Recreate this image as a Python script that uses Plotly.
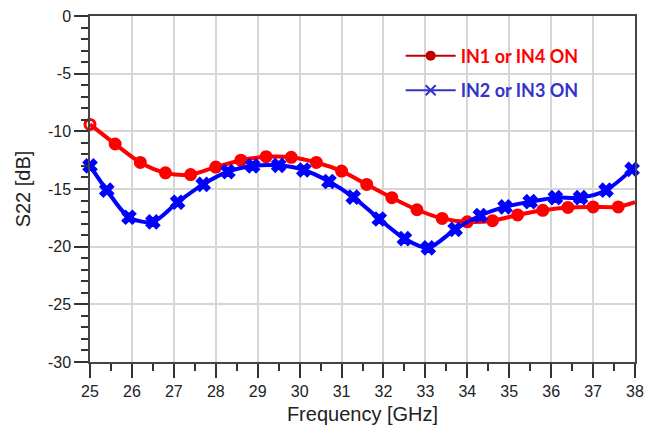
import plotly.graph_objects as go

# Data
red_freq = [25.0, 25.6, 26.2, 26.8, 27.4, 28.0, 28.6, 29.2, 29.8, 30.4, 31.0, 31.6,
            32.2, 32.8, 33.4, 34.0, 34.6, 35.2, 35.8, 36.4, 37.0, 37.6, 38.0]
red_s22 = [-9.4, -11.1, -12.7, -13.6, -13.75, -13.1, -12.5, -12.2, -12.25, -12.7, -13.45, -14.6,
           -15.75, -16.8, -17.55, -17.85, -17.75, -17.25, -16.85, -16.6, -16.55, -16.55, -16.15]

blue_freq = [25.0, 25.4, 25.93, 26.5, 27.09, 27.7, 28.29, 28.88, 29.5, 30.1, 30.7, 31.28,
             31.9, 32.5, 33.07, 33.71, 34.31, 34.9, 35.5, 36.1, 36.7, 37.31, 37.93]
blue_s22 = [-13.0, -15.1, -17.45, -17.85, -16.15, -14.6, -13.5, -13.0, -12.95, -13.35, -14.35, -15.7,
            -17.6, -19.3, -20.1, -18.5, -17.3, -16.55, -16.1, -15.75, -15.75, -15.1, -13.3]

red_name = "IN1 or IN4 ON"
blue_name = "IN2 or IN3 ON"

y_ticks = [0, -5, -10, -15, -20, -25, -30]
x_ticks = list(range(25, 39))

red_opacity = [1] * (len(red_freq) - 1) + [0]
red_symbols = ["circle-open"] + ["circle"] * (len(red_freq) - 1)

fig = go.Figure()
fig.add_trace(go.Scatter(
    x=red_freq, y=red_s22, mode="lines+markers", showlegend=False,
    line=dict(color="#FF0000", width=4, shape="spline", smoothing=0.8),
    marker=dict(color="#FF0000", size=10, symbol=red_symbols, opacity=red_opacity,
                line=dict(width=3, color="#FF0000")),
    cliponaxis=False,
))
fig.add_trace(go.Scatter(
    x=blue_freq, y=blue_s22, mode="lines+markers", showlegend=False,
    line=dict(color="#0000FF", width=4, shape="spline", smoothing=0.8),
    marker=dict(color="#0000FF", size=12, symbol="x", line=dict(width=1.5, color="#0000FF")),
    cliponaxis=False,
))
# legend entries
fig.add_trace(go.Scatter(
    x=[None], y=[None], mode="lines+markers",
    name="<b><span style='color:#FF0000'>" + red_name + "</span></b>",
    line=dict(color="#C00000", width=2),
    marker=dict(color="#C00000", size=10, symbol="circle"),
    legend="legend",
))
fig.add_trace(go.Scatter(
    x=[None], y=[None], mode="lines+markers",
    name="<b><span style='color:#3333CC'>" + blue_name + "</span></b>",
    line=dict(color="#3333CC", width=2),
    marker=dict(color="#3333CC", size=10, symbol="x-thin", line=dict(width=2, color="#3333CC")),
    legend="legend2",
))

axis_font = dict(family="Liberation Sans, Arial, sans-serif", size=16, color="#222222")
legend_font = dict(family="Lato, Open Sans, sans-serif", size=18)
fig.update_layout(
    width=649, height=428,
    margin=dict(l=82, r=22, t=8, b=74, autoexpand=False),
    paper_bgcolor="white", plot_bgcolor="white",
    font=axis_font,
    xaxis=dict(
        range=[25, 38], tickvals=x_ticks, ticktext=[str(v) for v in x_ticks],
        showgrid=True, gridcolor="#d6d6d6", gridwidth=2,
        showline=True, linecolor="#444444", linewidth=1.5, mirror=True,
        ticks="outside", ticklen=14, tickcolor="#333333", tickwidth=1.5,
        minor=dict(dtick=0.5, ticks="outside", ticklen=7, tickcolor="#333333", tickwidth=1.5, showgrid=False),
        zeroline=False, automargin=False, ticklabeloverflow="allow",
        title=dict(text="Frequency [GHz]", font=dict(size=20, color="#222222"), standoff=8),
        tickfont=axis_font,
    ),
    yaxis=dict(
        range=[-30, 0], tickvals=y_ticks, ticktext=[str(v) for v in y_ticks],
        showgrid=True, gridcolor="#d6d6d6", gridwidth=2,
        showline=True, linecolor="#444444", linewidth=1.5, mirror=True,
        ticks="outside", ticklen=14, tickcolor="#333333", tickwidth=1.5,
        minor=dict(dtick=1, ticks="outside", ticklen=7, tickcolor="#333333", tickwidth=1.5, showgrid=False),
        zeroline=False, automargin=False, ticklabeloverflow="allow",
        title=dict(text="S22 [dB]", font=dict(size=20, color="#222222"), standoff=12),
        tickfont=axis_font,
    ),
    legend=dict(x=0.57, y=0.938, xanchor="left", yanchor="top", bgcolor="rgba(0,0,0,0)",
                itemwidth=50, font=legend_font),
    legend2=dict(x=0.57, y=0.838, xanchor="left", yanchor="top", bgcolor="rgba(0,0,0,0)",
                 itemwidth=50, font=legend_font),
)

fig.write_html("out.html")
